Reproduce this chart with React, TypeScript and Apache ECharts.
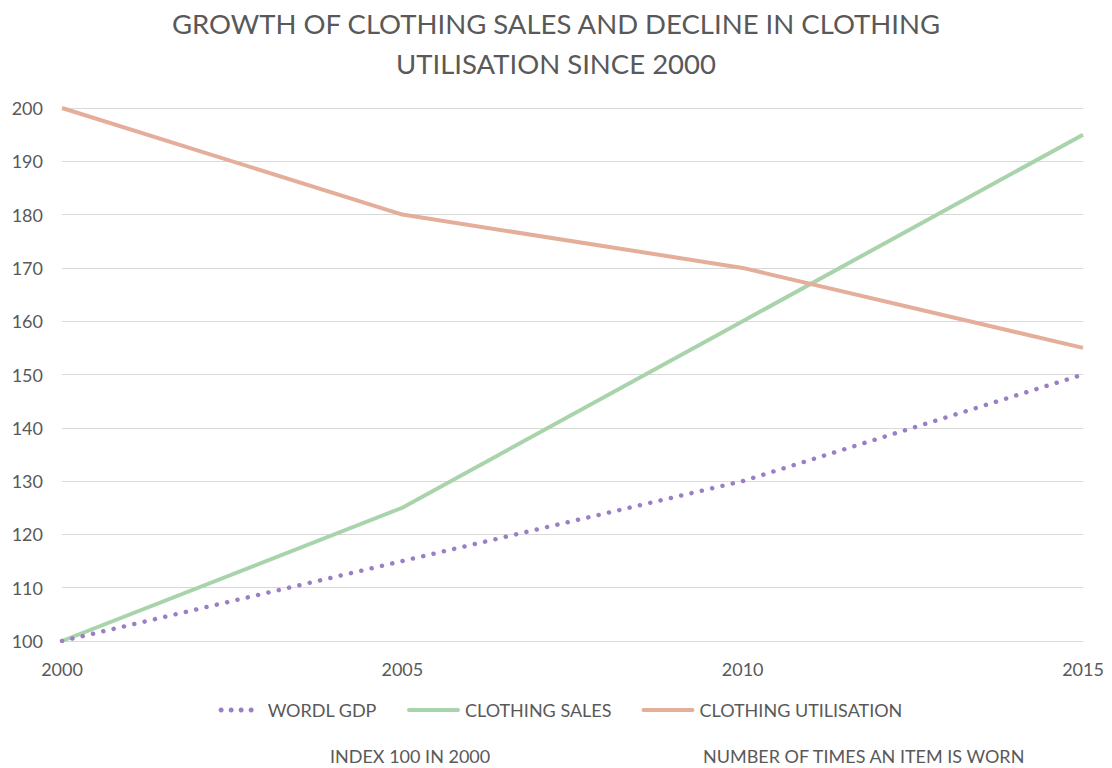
import React, { useEffect, useRef } from "react";
import * as echarts from "echarts";

const years = ["2000", "2005", "2010", "2015"];
const worldGdp = [100, 115, 130, 150];
const clothingSales = [100, 125, 160, 195];
const clothingUtilisation = [200, 180, 170, 155];
const titleLines = ["GROWTH OF CLOTHING SALES AND DECLINE IN CLOTHING", "UTILISATION SINCE 2000"];
const noteLeft = "INDEX 100 IN 2000";
const noteRight = "NUMBER OF TIMES AN ITEM IS WORN";

const FONT = "Lato, 'Open Sans', sans-serif";
const TXT = "#595959";
const PURPLE = "#9b7fc5";
const GREEN = "#a9d4ab";
const SALMON = "#e4ae9b";

// icon box: 53 x 5 (tiny corner markers keep the bounding box)
const BOX = "M0,0h0.01v0.01h-0.01zM52.99,4.99h0.01v0.01h-0.01z";
const DOTS_ICON =
  "path://" +
  BOX +
  "M11.5,0a2.5,2.5 0 1,0 0.01,0zM21.5,0a2.5,2.5 0 1,0 0.01,0zM31.5,0a2.5,2.5 0 1,0 0.01,0zM41.5,0a2.5,2.5 0 1,0 0.01,0z";
const BAR_ICON = "path://" + BOX + "M2,0.5h49a2,2 0 0,1 0,4h-49a2,2 0 0,1 0,-4z";

export default function App() {
  const ref = useRef<HTMLDivElement>(null);
  useEffect(() => {
    if (!ref.current) return;
    const chart = echarts.init(ref.current, null, { renderer: "svg" });
    chart.setOption({
      animation: false,
      backgroundColor: "#ffffff",
      textStyle: { fontFamily: FONT, color: TXT },
      title: {
        text: titleLines.join("\n"),
        left: "center",
        top: -2,
        textStyle: { fontFamily: FONT, fontSize: 27.5, fontWeight: "normal", color: TXT, lineHeight: 40 },
      },
      grid: { left: 62, right: 29, top: 108, bottom: 127 },
      xAxis: {
        type: "category",
        data: years,
        boundaryGap: false,
        axisLine: { show: false },
        axisTick: { show: false },
        axisLabel: { color: TXT, fontSize: 18, fontFamily: FONT, margin: 19 },
        splitLine: { show: false },
      },
      yAxis: {
        type: "value",
        min: 100,
        max: 200,
        interval: 10,
        axisLine: { show: false },
        axisTick: { show: false },
        axisLabel: { color: TXT, fontSize: 18, fontFamily: FONT, margin: 19 },
        splitLine: { lineStyle: { color: "#d9d9d9", width: 1 } },
      },
      legend: {
        top: 696,
        left: "center",
        itemWidth: 53,
        itemHeight: 5,
        itemGap: 30,
        textStyle: { color: TXT, fontSize: 18, fontFamily: FONT },
        data: [
          { name: "WORDL GDP", icon: DOTS_ICON, itemStyle: { color: PURPLE } },
          { name: "CLOTHING SALES", icon: BAR_ICON, itemStyle: { color: GREEN } },
          { name: "CLOTHING UTILISATION", icon: BAR_ICON, itemStyle: { color: SALMON } },
        ],
      },
      graphic: [
        { type: "text", left: 330, top: 747, style: { text: noteLeft, fill: TXT, font: `18px ${FONT}` } },
        { type: "text", left: 703, top: 747, style: { text: noteRight, fill: TXT, font: `18px ${FONT}` } },
      ],
      series: [
        {
          name: "WORDL GDP",
          type: "line",
          data: worldGdp,
          symbol: "none",
          color: PURPLE,
          lineStyle: { width: 4.5, color: PURPLE, type: [0.1, 10.5], cap: "round" },
          z: 3,
        },
        {
          name: "CLOTHING SALES",
          type: "line",
          data: clothingSales,
          symbol: "none",
          color: GREEN,
          lineStyle: { width: 4, color: GREEN },
          z: 2,
        },
        {
          name: "CLOTHING UTILISATION",
          type: "line",
          data: clothingUtilisation,
          symbol: "none",
          color: SALMON,
          lineStyle: { width: 4, color: SALMON },
          z: 2,
        },
      ],
    });
    return () => chart.dispose();
  }, []);
  return <div ref={ref} style={{ width: 1112, height: 768, position: "absolute", left: 0, top: 0 }} />;
}
